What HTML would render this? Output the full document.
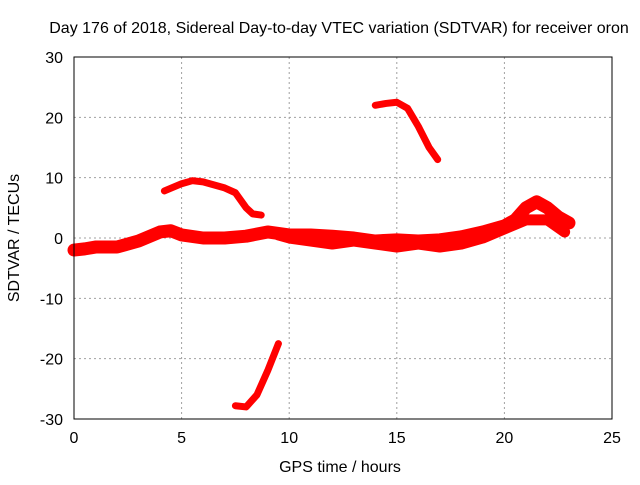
<!DOCTYPE html>
<html><head><meta charset="utf-8"><style>
body{margin:0;background:#fff}
svg text{font-family:"Liberation Sans",sans-serif;font-size:16px;fill:#000}
</style></head><body>
<svg id="chart" width="640" height="480">
<text x="339" y="33" text-anchor="middle">Day 176 of 2018, Sidereal Day-to-day VTEC variation (SDTVAR) for receiver oron</text>
<text x="340" y="472" text-anchor="middle">GPS time / hours</text>
<text transform="translate(19,238) rotate(-90)" text-anchor="middle">SDTVAR / TECUs</text>
<g id="grid"></g><g id="marks"></g>
<rect x="74" y="57" width="538" height="362" fill="none" stroke="#000"/>
</svg>
<script>
const xTicks=[0,5,10,15,20,25];
const yTicks=[-30,-20,-10,0,10,20,30];
const bandA=[[0,-2],[0.5,-1.8],[1,-1.5],[2,-1.5],[3,-0.5],[4,1],[4.5,1.2],[5,0.5],[6,0],[7,0],[8,0.3],[9,1],[10,0.5],[11,0.5],[12,0.3],[13,0],[14,-0.5],[15,-0.3],[16,-0.5],[17,-0.3],[18,0.2],[19,1],[20,2],[20.5,3],[21,5],[21.5,6],[22,5],[22.5,3.5],[23,2.5]];
const bandB=[[9.5,0.5],[10,0],[11,-0.5],[12,-1],[13,-0.5],[14,-1],[15,-1.5],[16,-1],[17,-1.5],[18,-1],[19,0],[20,1.5],[21,3],[22,3],[22.8,1]];
const arc1=[[4.2,7.8],[5,9],[5.5,9.5],[6,9.3],[7,8.3],[7.5,7.5],[8,5],[8.3,4],[8.7,3.8]];
const arc2=[[14,22],[14.5,22.3],[15,22.5],[15.5,21.5],[16,18.5],[16.5,15],[16.9,13]];
const arc3=[[7.5,-27.8],[8,-28],[8.5,-26],[9,-22],[9.5,-17.5]];
const X=v=>74+v*538/25, Y=v=>238-v*362/60;
const NS='http://www.w3.org/2000/svg';
const svg=document.getElementById('chart'),g=document.getElementById('grid'),m=document.getElementById('marks');
function mk(t,a,p){const e=document.createElementNS(NS,t);for(const k in a)e.setAttribute(k,a[k]);p.appendChild(e);return e;}
xTicks.forEach(v=>{
 if(v>0&&v<25){const l=mk('line',{x1:X(v),x2:X(v),y1:57,y2:419,stroke:'#a0a0a0','stroke-dasharray':'2,3'},g);
 
 }
 const t=mk('text',{x:X(v),y:443,'text-anchor':'middle'},svg);t.textContent=v;
 
 
});
yTicks.forEach(v=>{
 if(v>-30&&v<30){const l=mk('line',{x1:74,x2:612,y1:Y(v),y2:Y(v),stroke:'#a0a0a0','stroke-dasharray':'2,3'},g);
 
 }
 const t=mk('text',{x:63,y:Y(v)+6,'text-anchor':'end'},svg);t.textContent=v;
 
 
});
[[bandA,13,'series-main-band'],[bandB,11,'series-lower-band'],[arc1,7,'series-arc-1'],[arc2,7,'series-arc-2'],[arc3,7,'series-arc-3']].forEach(([d,w,n])=>{
 const p=mk('polyline',{points:d.map(q=>X(q[0])+','+Y(q[1])).join(' '),fill:'none',stroke:'#ff0000','stroke-width':w,'stroke-linejoin':'round','stroke-linecap':'round'},m);
 
 
});
</script>
</body></html>
